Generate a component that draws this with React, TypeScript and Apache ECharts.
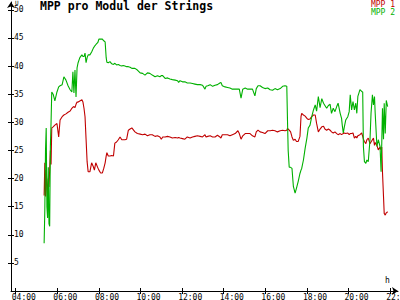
import React, { useEffect, useRef } from "react";
import * as echarts from "echarts";

const times = [
  "05:22","05:24","05:26","05:28","05:30","05:32","05:34","05:36","05:38","05:40",
  "05:42","05:44","05:48","05:53","05:59","06:04","06:08","06:14","06:19","06:25",
  "06:31","06:37","06:42","06:45","06:48","06:51","06:54","06:57","07:00","07:05",
  "07:11","07:14","07:17","07:20","07:23","07:26","07:29","07:34","07:39","07:44",
  "07:47","07:51","07:57","08:00","08:05","08:10","08:14","08:18","08:21","08:23",
  "08:27","08:32","08:37","08:42","08:46","08:51","08:56","09:01","09:06","09:10",
  "09:15","09:20","09:25","09:30","09:35","09:44","09:51","09:59","10:06","10:13",
  "10:20","10:27","10:34","10:42","10:49","10:56","11:00","11:04","11:11","11:18",
  "11:25","11:32","11:40","11:47","11:50","11:54","12:01","12:08","12:15","12:23",
  "12:30","12:37","12:44","12:52","12:59","13:06","13:09","13:14","13:21","13:28",
  "13:35","13:42","13:49","13:52","13:56","14:04","14:11","14:18","14:25","14:33",
  "14:41","14:45","14:50","14:55","15:02","15:09","15:16","15:23","15:30","15:34",
  "15:39","15:45","15:52","15:59","16:07","16:14","16:21","16:28","16:35","16:43",
  "16:50","16:57","17:02","17:04","17:06","17:09","17:13","17:17","17:21","17:26",
  "17:30","17:35","17:40","17:43","17:45","17:50","17:55","18:00","18:04","18:09",
  "18:14","18:19","18:24","18:28","18:33","18:38","18:43","18:48","18:52","18:57",
  "19:02","19:07","19:11","19:16","19:21","19:26","19:30","19:36","19:40","19:42",
  "19:45","19:48","19:52","19:58","20:02","20:05","20:09","20:13","20:17","20:21",
  "20:24","20:27","20:30","20:33","20:38","20:41","20:43","20:46","20:50","20:53",
  "20:57","21:02","21:05","21:09","21:12","21:15","21:17","21:22","21:26","21:31",
  "21:34","21:36","21:38","21:41","21:43","21:46","21:49","21:53"
];

const mpp1 = [
  17.0,22.8,16.8,21.5,19.0,16.5,20.0,18.5,21.5,25.0,
  22.5,29.0,29.2,29.5,29.8,27.4,30.4,31.0,31.3,31.5,
  31.8,32.0,32.5,32.7,32.8,32.6,33.2,33.6,33.6,33.8,
  34.0,33.6,32.5,31.0,27.0,23.0,21.2,21.2,22.8,22.1,
  21.5,22.8,21.9,21.5,21.0,21.0,21.8,22.8,24.0,24.6,
  24.0,24.0,24.1,24.0,26.3,26.5,26.9,27.4,26.9,26.9,
  26.9,27.0,28.6,28.8,29.0,28.3,28.0,27.9,27.8,27.9,
  27.6,27.8,27.8,27.5,27.6,27.4,27.0,27.4,27.4,27.5,
  27.4,27.2,27.3,27.2,27.3,27.2,27.1,27.0,27.4,27.2,
  27.4,27.5,27.6,27.5,27.4,27.8,27.4,27.5,27.6,27.4,
  27.4,27.7,27.4,27.2,27.8,27.8,27.8,27.6,27.8,28.0,
  28.5,28.0,27.0,27.6,28.0,28.0,28.0,27.6,27.4,28.3,
  28.6,28.3,28.2,28.0,28.5,28.5,28.6,28.5,28.3,28.5,
  28.6,28.5,28.6,28.9,28.9,28.6,28.3,27.4,26.8,27.0,
  26.6,26.6,27.5,31.0,31.6,31.3,31.1,30.7,30.5,30.6,
  31.0,31.3,31.3,29.8,28.3,28.8,29.2,29.3,28.8,28.6,
  28.8,28.6,28.3,28.1,28.3,28.0,27.8,28.0,27.8,27.9,
  28.0,28.1,28.0,28.1,27.8,28.0,28.0,28.1,27.2,27.5,
  27.2,27.6,27.7,27.8,28.1,27.5,27.0,26.6,26.2,26.9,
  27.2,26.2,26.5,26.9,27.2,25.9,26.4,25.9,25.1,25.6,
  25.1,25.6,21.2,16.8,13.8,13.5,13.9,14.1
];

const mpp2 = [
  8.5,14.4,25.0,29.0,15.0,13.0,22.0,12.0,11.5,25.6,
  30.0,35.4,35.0,33.8,35.4,36.3,36.5,36.7,38.1,37.5,
  36.5,35.8,35.4,39.0,35.2,39.3,34.5,39.7,40.6,41.5,
  42.0,41.7,41.7,42.3,40.6,41.5,42.0,42.0,42.5,43.2,
  43.5,43.8,44.2,44.8,44.8,44.8,44.5,44.3,41.5,40.7,
  40.6,40.8,40.4,40.3,40.5,40.2,40.3,40.1,40.0,40.1,
  40.0,39.9,39.9,39.8,39.6,39.6,39.3,38.8,38.7,38.4,
  38.8,38.7,38.4,38.1,38.3,38.1,38.3,38.3,37.8,37.9,
  37.7,37.6,37.5,37.4,37.1,37.4,37.2,37.2,37.0,37.0,
  36.9,36.8,36.7,36.7,36.6,35.9,36.4,36.5,36.7,36.4,
  36.6,36.7,37.0,37.1,36.5,36.3,36.2,36.1,35.9,35.9,
  35.9,35.9,34.3,35.9,36.1,35.9,35.9,35.9,34.7,36.0,
  36.5,36.5,36.2,36.0,36.1,35.8,35.7,36.0,35.8,36.0,
  36.4,36.5,36.4,30.4,25.0,22.0,22.0,21.8,18.6,17.4,
  18.3,19.5,20.9,21.5,21.8,23.3,25.4,27.2,29.0,29.5,
  31.0,32.2,33.1,32.0,34.6,32.6,34.2,33.4,33.0,32.5,
  33.0,33.2,31.6,32.5,31.9,32.8,33.4,31.6,30.7,29.5,
  28.1,29.2,30.4,31.0,31.9,34.9,32.2,33.7,32.2,33.4,
  31.6,34.6,35.2,35.8,35.5,35.4,25.7,23.0,22.7,23.3,
  23.0,26.9,31.6,34.9,33.1,34.6,31.6,25.7,26.9,25.7,
  21.2,26.3,32.5,27.0,33.4,28.0,33.9,32.8
];

const hourTicks = [4, 6, 8, 10, 12, 14, 16, 18, 20, 22];
const voltTicks = [5, 10, 15, 20, 25, 30, 35, 40, 45, 50];

const RED = "#c00000";
const GREEN = "#00b000";
const FONT = "DejaVu Sans Mono";

const X_MIN = 3.774;
const X_MAX = 22.38;
const Y_MIN = 0;
const Y_MAX = 51.4;
const LABEL_SHIFT = 0.19;

function toHours(t: string): number {
  const [h, m] = t.split(":").map(Number);
  return h + m / 60;
}

export default function App() {
  const ref = useRef<HTMLDivElement>(null);

  useEffect(() => {
    const chart = echarts.init(ref.current!, null, { renderer: "svg" });
    const s1 = times.map((t, i) => [toHours(t), mpp1[i]]);
    const s2 = times.map((t, i) => [toHours(t), mpp2[i]]);

    const option: any = {
      animation: false,
      backgroundColor: "#ffffff",
      textStyle: { fontFamily: FONT },
      title: {
        text: "MPP pro Modul der Strings",
        left: 40,
        top: 0,
        padding: 0,
        textStyle: { fontFamily: FONT, fontWeight: "bold", fontSize: 11.5, color: "#000" },
      },
      legend: {
        orient: "vertical",
        right: 5,
        top: 0,
        padding: 0,
        icon: "none",
        itemWidth: 0,
        itemHeight: 8,
        itemGap: 0,
        textStyle: { fontFamily: FONT, fontSize: 8, lineHeight: 8 },
        data: [
          { name: "MPP 1", textStyle: { color: RED } },
          { name: "MPP 2", textStyle: { color: GREEN } },
        ],
      },
      grid: { left: 11, right: 2, top: 2, bottom: 9, containLabel: false, outerBoundsMode: "none" },
      xAxis: [
        {
          type: "value",
          min: X_MIN,
          max: X_MAX,
          position: "bottom",
          axisLine: {
            show: true,
            onZero: false,
            lineStyle: { color: "#000", width: 1 },
            symbol: ["none", "arrow"],
            symbolSize: [6, 6],
          },
          axisTick: { show: true, length: 3, customValues: hourTicks, lineStyle: { color: "#000" } },
          axisLabel: {
            show: true,
            customValues: hourTicks.map((h) => h - LABEL_SHIFT),
            formatter: (v: number) => String(Math.round(v)).padStart(2, "0") + ":00",
            align: "left",
            margin: 2,
            fontFamily: FONT,
            fontSize: 8,
            color: "#000",
          },
          splitLine: { show: false },
        },
        {
          type: "value",
          min: X_MIN,
          max: X_MAX,
          position: "bottom",
          axisLine: { show: false, onZero: false },
          axisTick: { show: true, inside: true, length: 3, customValues: hourTicks, lineStyle: { color: "#000" } },
          axisLabel: { show: false },
          splitLine: { show: false },
        },
      ],
      yAxis: [
        {
          type: "value",
          min: Y_MIN,
          max: Y_MAX,
          position: "left",
          axisLine: {
            show: true,
            onZero: false,
            lineStyle: { color: "#000", width: 1 },
            symbol: ["none", "arrow"],
            symbolSize: [6, 6],
          },
          axisTick: { show: true, length: 3, customValues: voltTicks, lineStyle: { color: "#000" } },
          axisLabel: {
            show: true,
            inside: true,
            customValues: voltTicks,
            margin: 3,
            fontFamily: FONT,
            fontSize: 8,
            lineHeight: 6,
            color: "#000",
          },
          splitLine: { show: false },
        },
        {
          type: "value",
          min: Y_MIN,
          max: Y_MAX,
          position: "left",
          axisLine: { show: false, onZero: false },
          axisTick: { show: true, inside: true, length: 3, customValues: voltTicks, lineStyle: { color: "#000" } },
          axisLabel: { show: false },
          splitLine: { show: false },
        },
      ],
      graphic: [
        { type: "text", left: 15, top: -1, style: { text: "U", font: `6px ${FONT}`, lineHeight: 5, fill: "#000" } },
        { type: "text", left: 385, top: 276, style: { text: "h", font: `8px ${FONT}`, fill: "#000" } },
      ],
      series: [
        {
          name: "MPP 1",
          type: "line",
          data: s1,
          showSymbol: false,
          symbol: "none",
          lineStyle: { color: RED, width: 1.1 },
          itemStyle: { color: RED },
          emphasis: { disabled: true },
        },
        {
          name: "MPP 2",
          type: "line",
          data: s2,
          showSymbol: false,
          symbol: "none",
          lineStyle: { color: GREEN, width: 1.1 },
          itemStyle: { color: GREEN },
          emphasis: { disabled: true },
        },
      ],
    };

    chart.setOption(option);
    return () => chart.dispose();
  }, []);

  return (
    <div
      ref={ref}
      style={{ position: "fixed", left: 0, top: 0, width: 400, height: 300 }}
    />
  );
}
